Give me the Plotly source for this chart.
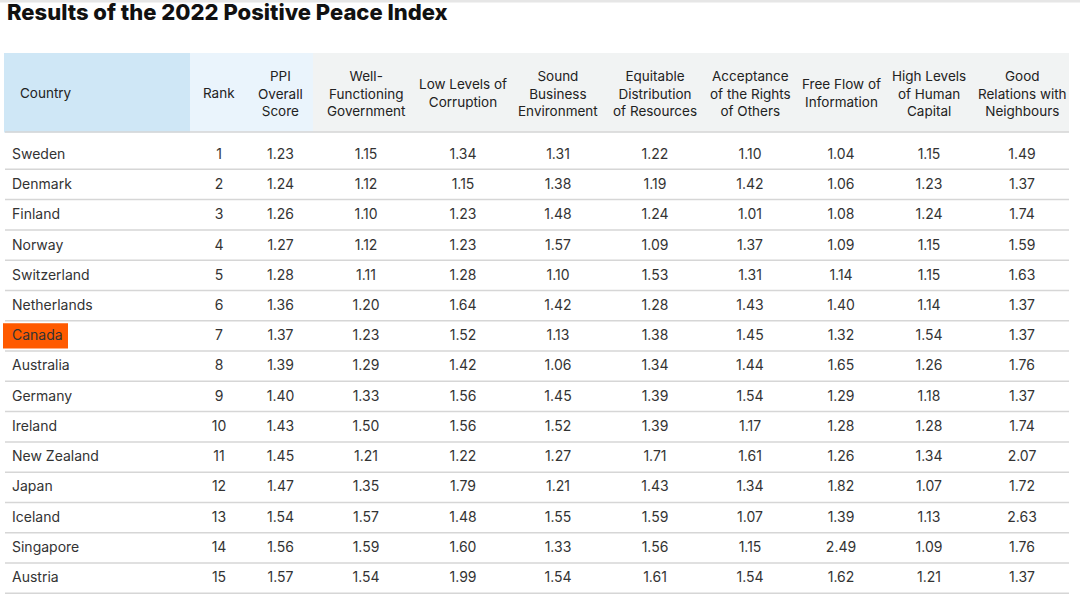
import plotly.graph_objects as go

# ---------------- data ----------------
countries = ["Sweden", "Denmark", "Finland", "Norway", "Switzerland", "Netherlands",
             "Canada", "Australia", "Germany", "Ireland", "New Zealand", "Japan",
             "Iceland", "Singapore", "Austria"]
rank = [1, 2, 3, 4, 5, 6, 7, 8, 9, 10, 11, 12, 13, 14, 15]
ppi_overall = [1.23, 1.24, 1.26, 1.27, 1.28, 1.36, 1.37, 1.39, 1.40, 1.43, 1.45, 1.47, 1.54, 1.56, 1.57]
well_functioning_gov = [1.15, 1.12, 1.10, 1.12, 1.11, 1.20, 1.23, 1.29, 1.33, 1.50, 1.21, 1.35, 1.57, 1.59, 1.54]
low_corruption = [1.34, 1.15, 1.23, 1.23, 1.28, 1.64, 1.52, 1.42, 1.56, 1.56, 1.22, 1.79, 1.48, 1.60, 1.99]
sound_business = [1.31, 1.38, 1.48, 1.57, 1.10, 1.42, 1.13, 1.06, 1.45, 1.52, 1.27, 1.21, 1.55, 1.33, 1.54]
equitable_distribution = [1.22, 1.19, 1.24, 1.09, 1.53, 1.28, 1.38, 1.34, 1.39, 1.39, 1.71, 1.43, 1.59, 1.56, 1.61]
acceptance_rights = [1.10, 1.42, 1.01, 1.37, 1.31, 1.43, 1.45, 1.44, 1.54, 1.17, 1.61, 1.34, 1.07, 1.15, 1.54]
free_flow_info = [1.04, 1.06, 1.08, 1.09, 1.14, 1.40, 1.32, 1.65, 1.29, 1.28, 1.26, 1.82, 1.39, 2.49, 1.62]
human_capital = [1.15, 1.23, 1.24, 1.15, 1.15, 1.14, 1.54, 1.26, 1.18, 1.28, 1.34, 1.07, 1.13, 1.09, 1.21]
good_relations = [1.49, 1.37, 1.74, 1.59, 1.63, 1.37, 1.37, 1.76, 1.37, 1.74, 2.07, 1.72, 2.63, 1.76, 1.37]

header_labels = ["Country", "Rank", "PPI<br>Overall<br>Score", "Well-<br>Functioning<br>Government",
                 "Low Levels of<br>Corruption", "Sound<br>Business<br>Environment",
                 "Equitable<br>Distribution<br>of Resources", "Acceptance<br>of the Rights<br>of Others",
                 "Free Flow of<br>Information", "High Levels<br>of Human<br>Capital",
                 "Good<br>Relations with<br>Neighbours"]
highlight_country = "Canada"
title_text = "Results of the 2022 Positive Peace Index"

# ---------------- geometry / style ----------------
W, H = 1080, 594
TABLE_LEFT, TABLE_RIGHT, TABLE_TOP = 4, 1069, 53
HEADER_BOTTOM = 132          # visible end of the header band
FIRST_ROW_LINE = 169.3       # first row separator
LINE_STEP = 30.29            # row separator spacing
BODY_TOP = 140.3             # where the table's body rows start (header band overflow is masked)
ROW_H = 30.24
HEADER_H = BODY_TOP - TABLE_TOP
col_widths = [186, 58, 65, 106, 88, 102, 92, 98, 84, 92, 94]

FONT = "Inter"
score_cols = [ppi_overall, well_functioning_gov, low_corruption, sound_business,
              equitable_distribution, acceptance_rights, free_flow_info, human_capital,
              good_relations]

header_fill = ["#cfe7f6", "#eaf4fc", "#eaf4fc"] + ["#f1f3f3"] * 8
country_fill = ["rgba(0,0,0,0)" if c == highlight_country else "white" for c in countries]
cell_fill = [country_fill] + [["white"] * len(countries)] * 10


def px_y(y):
    return 1 - y / H


fig = go.Figure()
fig.add_trace(go.Table(
    domain=dict(x=[TABLE_LEFT / W, TABLE_RIGHT / W], y=[0, px_y(TABLE_TOP)]),
    columnwidth=col_widths,
    header=dict(
        values=[""] * len(header_labels),
        fill=dict(color=header_fill),
        line=dict(color="rgba(0,0,0,0)", width=0),
        height=HEADER_H,
    ),
    cells=dict(
        values=[countries, rank] + score_cols,
        format=["", ""] + [".2f"] * 9,
        align=["left"] + ["center"] * 10,
        fill=dict(color=cell_fill),
        line=dict(color="rgba(0,0,0,0)", width=0),
        font=dict(family=FONT, size=14, color="#333333"),
        height=ROW_H,
    ),
))

# header labels, centred in each column band
annotations = []
edges = [TABLE_LEFT]
for w in col_widths:
    edges.append(edges[-1] + w)
for i, lab in enumerate(header_labels):
    if i == 0:
        x, anchor = TABLE_LEFT + 14, "left"
    else:
        x, anchor = (edges[i] + edges[i + 1]) / 2, "center"
    annotations.append(dict(text=lab, x=x / W, y=px_y((TABLE_TOP + HEADER_BOTTOM) / 2 + 0.5),
                            xref="paper", yref="paper", xanchor=anchor, yanchor="middle",
                            align="center", showarrow=False,
                            font=dict(family=FONT, size=13.5, color="#222222")))

shapes = []
# top thin rule
shapes.append(dict(type="line", xref="paper", yref="paper", x0=0, x1=1,
                   y0=px_y(1.2), y1=px_y(1.2), line=dict(color="#e6e6e6", width=2.4), layer="above"))
# mask the part of the header band below its visible bottom
shapes.append(dict(type="rect", xref="paper", yref="paper", x0=0, x1=1,
                   y0=px_y(BODY_TOP + 0.5), y1=px_y(HEADER_BOTTOM + 0.5),
                   fillcolor="white", line=dict(width=0), layer="above"))
# header bottom + row separators
ys = [HEADER_BOTTOM] + [FIRST_ROW_LINE + LINE_STEP * k for k in range(len(countries))]
for yy in ys:
    shapes.append(dict(type="line", xref="paper", yref="paper",
                       x0=(TABLE_LEFT + 1) / W, x1=TABLE_RIGHT / W, y0=px_y(yy), y1=px_y(yy),
                       line=dict(color="#d6d6d6", width=1.5), layer="above"))
# highlight box behind the highlighted country name
hi = countries.index(highlight_country)
row_top = FIRST_ROW_LINE + LINE_STEP * (hi - 1)
shapes.append(dict(type="rect", xref="paper", yref="paper",
                   x0=3 / W, x1=68 / W, y0=px_y(row_top + 2.5), y1=px_y(row_top + LINE_STEP - 2.5),
                   fillcolor="#ff5a00", line=dict(width=0), layer="below"))

fig.update_layout(
    width=W, height=H,
    margin=dict(l=0, r=0, t=0, b=0),
    paper_bgcolor="white",
    title=dict(text=title_text, x=7 / W, xanchor="left",
               y=px_y(12.5), yanchor="middle", yref="container",
               font=dict(family=FONT, size=22, color="#111111", weight=800)),
    shapes=shapes,
    annotations=annotations,
)

fig.write_html("out.html",
               config={"displayModeBar": False},
               post_script="document.body.style.margin='0px';document.body.style.overflow='hidden';")
